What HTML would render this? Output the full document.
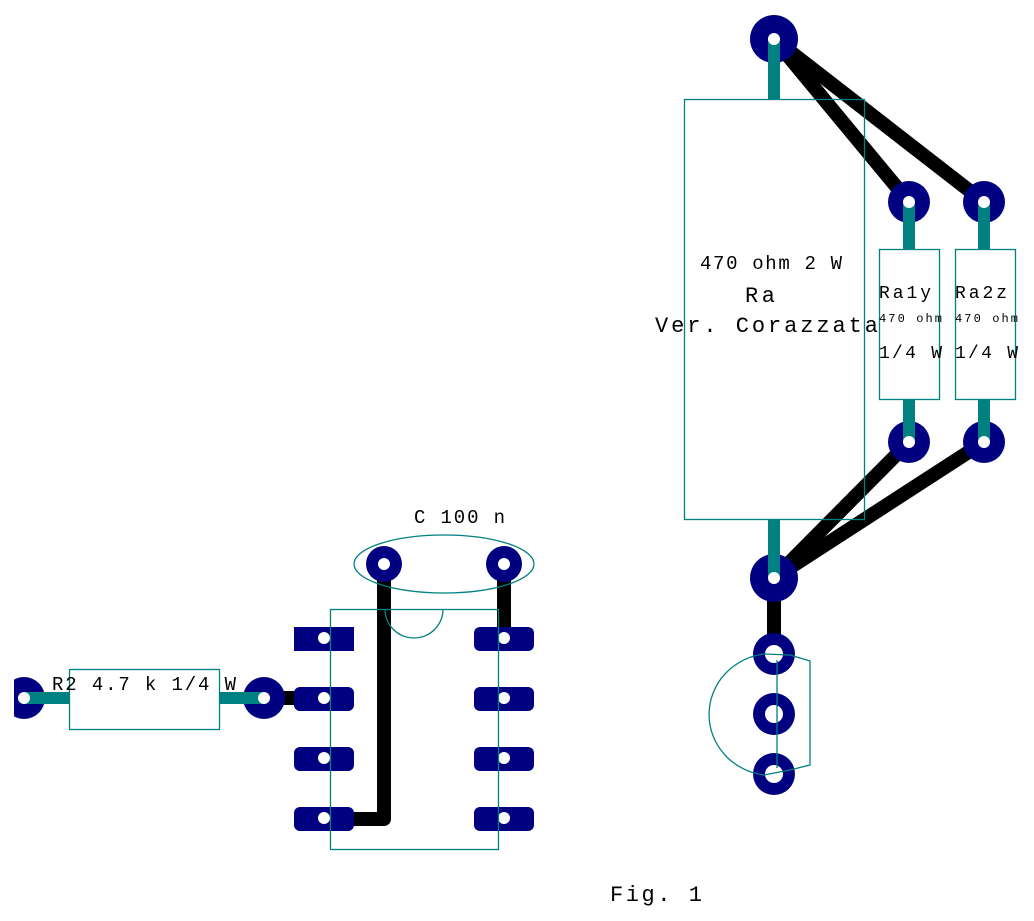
<!DOCTYPE html>
<html><head><meta charset="utf-8"><style>html,body{margin:0;padding:0;background:#fff}svg{display:block}</style></head>
<body>
<svg width="1034" height="921" viewBox="0 0 1034 921" xmlns="http://www.w3.org/2000/svg" font-family="Liberation Mono, monospace">
<g stroke="#000" stroke-width="14" stroke-linecap="butt" fill="none">
<line x1="774" y1="39" x2="909" y2="202"/>
<line x1="774" y1="39" x2="984" y2="202"/>
<line x1="774" y1="578" x2="909" y2="442"/>
<line x1="774" y1="578" x2="984" y2="442"/>
<line x1="774" y1="578" x2="774" y2="654"/>
<polyline points="384,564 384,819 330,819" stroke-linejoin="round"/>
<line x1="504" y1="564" x2="504" y2="638"/>
<line x1="264" y1="698" x2="300" y2="698"/>
</g>
<g fill="#000080">
<circle cx="774" cy="39" r="24"/>
<circle cx="774" cy="578" r="24"/>
<circle cx="909" cy="202" r="21"/>
<circle cx="984" cy="202" r="21"/>
<circle cx="909" cy="442" r="21"/>
<circle cx="984" cy="442" r="21"/>
<circle cx="774" cy="654" r="21"/>
<circle cx="774" cy="714" r="21"/>
<circle cx="774" cy="774" r="21"/>
<circle cx="384" cy="564" r="18"/>
<circle cx="504" cy="564" r="18"/>
<circle cx="24" cy="698" r="21"/>
<circle cx="264" cy="698" r="21"/>
<rect x="294" y="627" width="60" height="24"/>
<rect x="294" y="687" width="60" height="24" rx="6"/>
<rect x="294" y="747" width="60" height="24" rx="6"/>
<rect x="294" y="807" width="60" height="24" rx="6"/>
<rect x="474" y="627" width="60" height="24" rx="6"/>
<rect x="474" y="687" width="60" height="24" rx="6"/>
<rect x="474" y="747" width="60" height="24" rx="6"/>
<rect x="474" y="807" width="60" height="24" rx="6"/>
</g>
<rect x="0" y="670" width="14" height="60" fill="#fff"/>
<g stroke="#008080" stroke-width="12">
<line x1="774" y1="39" x2="774" y2="99"/>
<line x1="774" y1="519" x2="774" y2="578"/>
<line x1="909" y1="202" x2="909" y2="249"/>
<line x1="984" y1="202" x2="984" y2="249"/>
<line x1="909" y1="399" x2="909" y2="442"/>
<line x1="984" y1="399" x2="984" y2="442"/>
<line x1="24" y1="698" x2="69" y2="698"/>
<line x1="219" y1="698" x2="264" y2="698"/>
</g>
<g fill="#fff">
<circle cx="774" cy="39" r="6"/>
<circle cx="774" cy="578" r="6"/>
<circle cx="909" cy="202" r="6"/>
<circle cx="984" cy="202" r="6"/>
<circle cx="909" cy="442" r="6"/>
<circle cx="984" cy="442" r="6"/>
<circle cx="774" cy="654" r="9"/>
<circle cx="774" cy="714" r="9"/>
<circle cx="774" cy="774" r="9"/>
<circle cx="384" cy="564" r="6"/>
<circle cx="504" cy="564" r="6"/>
<circle cx="24" cy="698" r="6"/>
<circle cx="264" cy="698" r="6"/>
<circle cx="324" cy="638" r="6"/><circle cx="324" cy="698" r="6"/><circle cx="324" cy="758" r="6"/><circle cx="324" cy="818" r="6"/>
<circle cx="504" cy="638" r="6"/><circle cx="504" cy="698" r="6"/><circle cx="504" cy="758" r="6"/><circle cx="504" cy="818" r="6"/>
</g>
<g stroke="#008080" stroke-width="1.3" fill="none">
<rect x="684.5" y="99.5" width="180" height="420"/>
<rect x="879.5" y="249.5" width="60" height="150"/>
<rect x="955.5" y="249.5" width="60" height="150"/>
<rect x="69.5" y="669.5" width="150" height="60"/>
<rect x="330.5" y="609.5" width="168" height="240"/>
<path d="M385 609 A29 29 0 0 0 443 609"/>
<ellipse cx="444" cy="564" rx="90" ry="29"/>
<path d="M764 654 A63 61 0 0 0 764 775 L790 770 L810 765 L810 661 L790 655 Z"/>
<line x1="777" y1="660" x2="777" y2="768"/>
</g>
<g fill="#000" font-size="19" lengthAdjust="spacing">
<text x="52" y="690" textLength="184" lengthAdjust="spacing">R2 4.7 k 1/4 W</text>
<text x="414" y="523" textLength="91" lengthAdjust="spacing">C 100 n</text>
<text x="610" y="901" font-size="22" textLength="92" lengthAdjust="spacing">Fig. 1</text>
<text x="700" y="269" textLength="142" lengthAdjust="spacing">470 ohm 2 W</text>
<text x="745" y="302" font-size="22" textLength="30" lengthAdjust="spacing">Ra</text>
<text x="655" y="332" font-size="22" textLength="223" lengthAdjust="spacing">Ver. Corazzata</text>
<text x="879" y="298" font-size="18" textLength="52" lengthAdjust="spacing">Ra1y</text>
<text x="955" y="298" font-size="18" textLength="52" lengthAdjust="spacing">Ra2z</text>
<text x="879" y="322" font-size="12" textLength="63" lengthAdjust="spacing">470 ohm</text>
<text x="955" y="322" font-size="12" textLength="63" lengthAdjust="spacing">470 ohm</text>
<text x="879" y="358" font-size="18" textLength="63" lengthAdjust="spacing">1/4 W</text>
<text x="955" y="358" font-size="18" textLength="63" lengthAdjust="spacing">1/4 W</text>
</g>
</svg>
</body></html>
